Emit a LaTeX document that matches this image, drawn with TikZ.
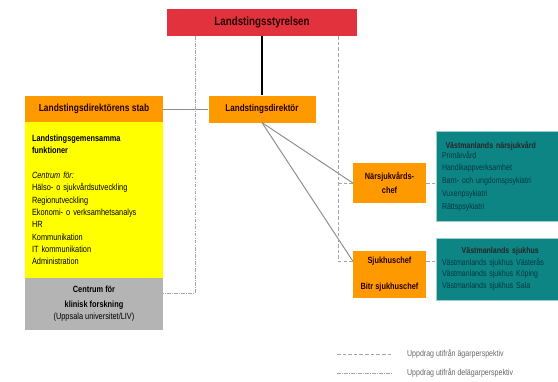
\documentclass[tikz,border=0pt]{standalone}
\usepackage{fontspec}
\setmainfont{Liberation Sans}[FakeStretch=0.82]
\usetikzlibrary{positioning}

\definecolor{styrred}{HTML}{E2323E}
\definecolor{dirorange}{HTML}{FF9900}
\definecolor{funkyellow}{HTML}{FFFF00}
\definecolor{forskgrey}{HTML}{B4B4B4}
\definecolor{vteal}{HTML}{0E8585}
\definecolor{vtealtext}{HTML}{053840}
\definecolor{linegrey}{HTML}{8E8E8E}

\begin{document}
\begin{tikzpicture}[x=0.05cm, y=-0.05cm]
\tikzset{ box/.style={inner sep=0pt, align=center, text=black!85!red},
          chefbox/.style={box, fill=dirorange, font={\fontsize{12.8}{20}\selectfont\bfseries}},
          tealbox/.style={inner sep=0pt, align=left, fill=vteal, draw=vteal!40!white,
                          line width=0.6pt, text=vtealtext, text width=5.5cm,
                          minimum width=6.1cm},
          leder/.style={draw=linegrey, line width=1.4pt},
          eier/.style={draw=linegrey!80, line width=0.8pt, dash pattern=on 5pt off 3pt},
          deleier/.style={draw=linegrey!80, line width=0.8pt,
                          dash pattern=on 5pt off 2pt on 1pt off 2pt},
          legend/.style={anchor=west, inner sep=0pt, text=black!60,
                         font={\fontsize{12.2}{14}\selectfont}} };
\def\boxw{6.9cm}

\useasboundingbox (0,0) rectangle (558,381);

\node[box, fill=styrred, minimum width=9.5cm, minimum height=1.35cm,
      font={\fontsize{17}{19}\selectfont\bfseries}] (styr) at (262,22.5) {Landstingsstyrelsen};

\node[box, fill=dirorange, minimum width=\boxw, minimum height=1.35cm,
      font={\fontsize{14.6}{16}\selectfont\bfseries}] (stab) at (94,109) {Landstingsdirektörens stab};
\node[box, fill=funkyellow, minimum width=\boxw, minimum height=7.8cm, align=left,
      text width=6.2cm, text=black, font={\fontsize{12.8}{17.6}\selectfont}] (funk) at (94,200)
      { \textbf{Landstingsgemensamma}\\[0pt]
        \textbf{funktioner}\\[17pt]
        \textit{Centrum för:}\\
        Hälso- o sjukvårdsutveckling\\
        Regionutveckling\\
        Ekonomi- o verksamhetsanalys\\
        HR\\
        Kommunikation\\
        IT kommunikation\\
        Administration };
\node[box, fill=forskgrey, minimum width=\boxw, minimum height=2.6cm, text=black,
      font={\fontsize{12.8}{17}\selectfont}] (forsk) at (94,304)
      { \textbf{Centrum för}\\[4pt] \textbf{klinisk forskning}\\ (Uppsala universitet/LIV) };

\node[box, fill=dirorange, minimum width=5.35cm, minimum height=1.35cm,
      font={\fontsize{14}{16}\selectfont\bfseries}] (dir) at (262,109) {Landstingsdirektör};

\node[chefbox, minimum width=3.65cm, minimum height=2cm] (nars) at (389.5,183) {Närsjukvårds-\\chef};
\node[chefbox, minimum width=3.65cm, minimum height=2.35cm] (sjuk) at (389.5,274.5)
      {Sjukhuschef\\[17pt]Bitr sjukhuschef};

\node[tealbox, minimum height=4.5cm, font={\fontsize{12.2}{18.2}\selectfont}] (narsv) at (497,176)
      { \hspace*{5pt}\textcolor{black!85}{\textbf{Västmanlands närsjukvård}}\\[-4pt]
        Primärvård\\
        Handikappverksamhet\\
        Barn- och ungdomspsykiatri\\
        Vuxenpsykiatri\\
        Rättspsykiatri };
\node[tealbox, minimum height=3.1cm, font={\fontsize{12.2}{16.4}\selectfont}] (sjukh) at (497,269)
      { \hspace*{28pt}\textcolor{black!85}{\textbf{Västmanlands sjukhus}}\\
        Västmanlands sjukhus Västerås\\
        Västmanlands sjukhus Köping\\
        Västmanlands sjukhus Sala };

\coordinate (lv) at (195,0);
\coordinate (rv) at (338,0);

\draw[line width=2.6pt] (styr) -- (dir);
\draw[leder] (stab.east) -- (stab.east -| dir.west);
\draw[leder] (dir.south) -- (nars.west);
\draw[leder] (dir.south) -- (sjuk.160);

\draw[deleier] (styr.south -| lv) |- (forsk.9);
\draw[eier] (styr.south -| rv) |- (sjuk.160);
\draw[eier] (nars.west -| rv) -- (nars.west);
\draw[eier] (nars.east) -- (nars.east -| narsv.west);
\draw[eier] (sjuk.20) -- (sjuk.20 -| sjukh.west);

\coordinate (l1a) at (337,354);
\coordinate (l1b) at (393,354);
\coordinate (l2a) at (337,373);
\coordinate (l2b) at (393,373);
\draw[eier] (l1a) -- (l1b);
\draw[deleier] (l2a) -- (l2b);
\node[legend] (leg1) at (407,354) {Uppdrag utifrån ägarperspektiv};
\node[legend] (leg2) at (407,373) {Uppdrag utifrån delägarperspektiv};

\end{tikzpicture}
\end{document}
